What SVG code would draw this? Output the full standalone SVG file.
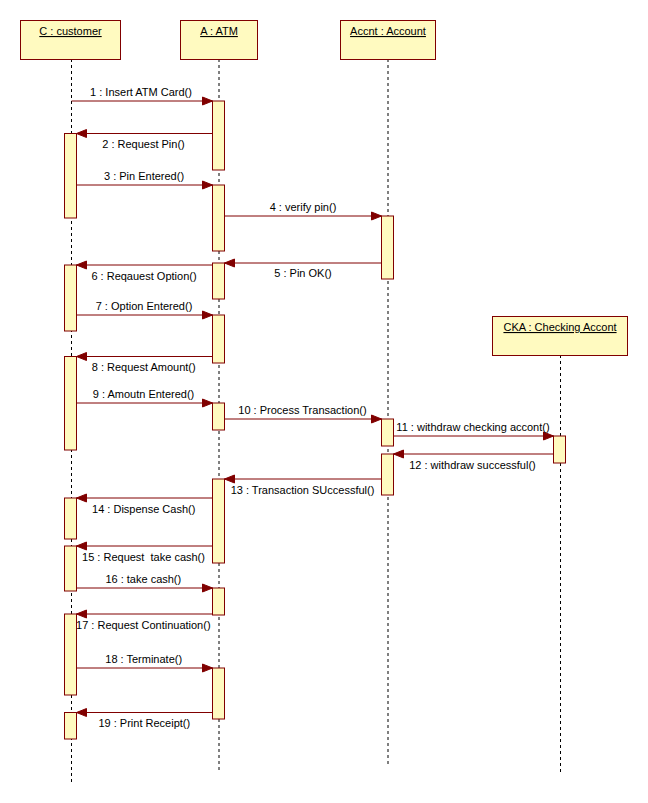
<svg xmlns="http://www.w3.org/2000/svg" width="648" height="803" viewBox="0 0 648 803">
<style>
.obj{fill:#FFFAC0;stroke:#800000;stroke-width:1}
.act{fill:#FFFAC0;stroke:#800000;stroke-width:1}
.life{stroke:#000;stroke-width:1;stroke-dasharray:3,3;fill:none}
.msg{stroke:#800000;stroke-width:1;fill:none;marker-end:url(#ah)}
text{font-family:"Liberation Sans",Arial,sans-serif;font-size:11px;fill:#000;text-anchor:middle}
.hdr{text-decoration:underline}
</style>
<defs>
<marker id="ah" markerUnits="userSpaceOnUse" markerWidth="12" markerHeight="10" viewBox="0 0 12 10" refX="11" refY="5" orient="auto">
<path d="M1,1 L11,5 L1,9 Z" fill="#800000" stroke="#800000" stroke-width="1"/>
</marker>
</defs>
<rect width="648" height="803" fill="#fff"/>
<g id="lifelines">
<line class="life" x1="71.5" y1="59" x2="71.5" y2="783"/>
<line class="life" x1="219" y1="59" x2="219" y2="773"/>
<line class="life" x1="388" y1="59" x2="388" y2="764"/>
<line class="life" x1="560.5" y1="355" x2="560.5" y2="773"/>
</g>
<g id="C">
<rect class="obj" x="20.5" y="20.5" width="100" height="39"/>
<text class="hdr" x="70.5" y="35">C : customer</text>
<rect class="act" x="64.5" y="133.5" width="12" height="84.5"/>
<rect class="act" x="64.5" y="265" width="12" height="66"/>
<rect class="act" x="64.5" y="356.5" width="12" height="93.5"/>
<rect class="act" x="64.5" y="498" width="12" height="41"/>
<rect class="act" x="64.5" y="546" width="12" height="45"/>
<rect class="act" x="64.5" y="614" width="12" height="81"/>
<rect class="act" x="64.5" y="712.5" width="12" height="26.5"/>
</g>
<g id="A">
<rect class="obj" x="180.5" y="20.5" width="77" height="39"/>
<text class="hdr" x="219" y="35">A : ATM</text>
<rect class="act" x="212.5" y="101" width="12" height="69"/>
<rect class="act" x="212.5" y="185" width="12" height="66"/>
<rect class="act" x="212.5" y="263" width="12" height="36"/>
<rect class="act" x="212.5" y="315" width="12" height="48"/>
<rect class="act" x="212.5" y="403" width="12" height="27"/>
<rect class="act" x="212.5" y="479" width="12" height="84"/>
<rect class="act" x="212.5" y="588" width="12" height="27"/>
<rect class="act" x="212.5" y="668" width="12" height="51"/>
</g>
<g id="Accnt">
<rect class="obj" x="340.5" y="20.5" width="95" height="39"/>
<text class="hdr" x="388" y="35">Accnt : Account</text>
<rect class="act" x="381.5" y="216" width="12" height="63"/>
<rect class="act" x="381.5" y="419" width="12" height="27"/>
<rect class="act" x="381.5" y="454" width="12" height="41"/>
</g>
<g id="CKA">
<rect class="obj" x="492.5" y="316.5" width="135" height="39"/>
<text class="hdr" x="560" y="331">CKA : Checking Accont</text>
<rect class="act" x="553.5" y="436" width="12" height="27"/>
</g>
<g id="connectors">
<line class="msg" x1="71.5" y1="101" x2="212.5" y2="101"/>
<line class="msg" x1="212.5" y1="133.5" x2="76.5" y2="133.5"/>
<line class="msg" x1="76.5" y1="185" x2="212.5" y2="185"/>
<line class="msg" x1="224.5" y1="216" x2="381.5" y2="216"/>
<line class="msg" x1="381.5" y1="263" x2="224.5" y2="263"/>
<line class="msg" x1="212.5" y1="265" x2="76.5" y2="265"/>
<line class="msg" x1="76.5" y1="315" x2="212.5" y2="315"/>
<line class="msg" x1="212.5" y1="356.5" x2="76.5" y2="356.5"/>
<line class="msg" x1="76.5" y1="403" x2="212.5" y2="403"/>
<line class="msg" x1="224.5" y1="419" x2="381.5" y2="419"/>
<line class="msg" x1="393.5" y1="436" x2="553.5" y2="436"/>
<line class="msg" x1="553.5" y1="454" x2="393.5" y2="454"/>
<line class="msg" x1="381.5" y1="479" x2="224.5" y2="479"/>
<line class="msg" x1="212.5" y1="498" x2="76.5" y2="498"/>
<line class="msg" x1="212.5" y1="546" x2="76.5" y2="546"/>
<line class="msg" x1="76.5" y1="588" x2="212.5" y2="588"/>
<line class="msg" x1="212.5" y1="614" x2="76.5" y2="614"/>
<line class="msg" x1="76.5" y1="668" x2="212.5" y2="668"/>
<line class="msg" x1="212.5" y1="712.5" x2="76.5" y2="712.5"/>
<text x="141" y="96">1 : Insert ATM Card()</text>
<text x="143.5" y="148">2 : Request Pin()</text>
<text x="144" y="180">3 : Pin Entered()</text>
<text x="303" y="211">4 : verify pin()</text>
<text x="303" y="277">5 : Pin OK()</text>
<text x="144" y="280">6 : Reqauest Option()</text>
<text x="144" y="310">7 : Option Entered()</text>
<text x="143.7" y="371">8 : Request Amount()</text>
<text x="143.5" y="398">9 : Amoutn Entered()</text>
<text x="302.5" y="414">10 : Process Transaction()</text>
<text x="473" y="431">11 : withdraw checking accont()</text>
<text x="472.5" y="469">12 : withdraw successful()</text>
<text x="302.5" y="494">13 : Transaction SUccessful()</text>
<text x="143.7" y="513">14 : Dispense Cash()</text>
<text x="143.5" y="561" xml:space="preserve">15 : Request  take cash()</text>
<text x="143.3" y="583">16 : take cash()</text>
<text x="143.3" y="629">17 : Request Continuation()</text>
<text x="143.7" y="663">18 : Terminate()</text>
<text x="144.3" y="727">19 : Print Receipt()</text>
</g>
</svg>
